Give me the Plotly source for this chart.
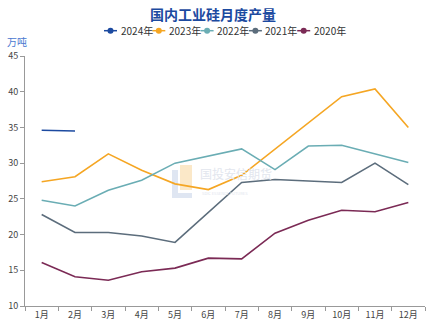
import plotly.graph_objects as go

months = ["1月", "2月", "3月", "4月", "5月", "6月", "7月", "8月", "9月", "10月", "11月", "12月"]
y2024 = [34.6, 34.5]
y2023 = [27.4, 28.1, 31.3, 29.0, 27.1, 26.3, 28.3, 32.0, 35.7, 39.3, 40.4, 35.0]
y2022 = [24.8, 24.0, 26.2, 27.6, 30.0, 31.0, 32.0, 29.1, 32.4, 32.5, 31.3, 30.1]
y2021 = [22.8, 20.3, 20.3, 19.8, 18.9, 23.1, 27.3, 27.7, 27.5, 27.3, 30.0, 27.0]
y2020 = [16.1, 14.1, 13.6, 14.8, 15.3, 16.7, 16.6, 20.2, 22.0, 23.4, 23.2, 24.5]

series = [
    ("2024年", y2024, "#1c4aa0"),
    ("2023年", y2023, "#f5a623"),
    ("2022年", y2022, "#6aadb4"),
    ("2021年", y2021, "#5c6d7c"),
    ("2020年", y2020, "#7b2a55"),
]

W, H = 426, 324
ML, MR, MT, MB = 25, 1, 56, 18
PW, PH = W - ML - MR, H - MT - MB


def px(x):
    return (x - ML) / PW


def py(y):
    return (H - MB - y) / PH


fig = go.Figure()
for name, vals, color in series:
    fig.add_trace(go.Scatter(x=months[:len(vals)], y=vals, mode="lines", name=name,
                             line=dict(color=color, width=1.6), showlegend=False))

shapes = []
annotations = []
# custom compact legend
leg_y = 30.7
for i, (name, vals, color) in enumerate(series):
    x0 = 104 + i * 48.3
    shapes.append(dict(type="line", xref="paper", yref="paper", x0=px(x0), x1=px(x0 + 13),
                       y0=py(leg_y), y1=py(leg_y), line=dict(color=color, width=1.5)))
    shapes.append(dict(type="circle", xref="paper", yref="paper", x0=px(x0 + 3.5), x1=px(x0 + 9.5),
                       y0=py(leg_y + 3), y1=py(leg_y - 3), fillcolor=color, line=dict(width=0)))
    annotations.append(dict(text=name, xref="paper", yref="paper", x=px(x0 + 14.5), y=py(leg_y),
                            xanchor="left", yanchor="middle", showarrow=False,
                            font=dict(size=10, color="#333")))

annotations += [
    dict(text="万吨", xref="paper", yref="paper", x=px(5), y=py(42), xanchor="left", yanchor="middle",
         showarrow=False, font=dict(size=10, color="#4a78d0")),
    dict(text="国投安信期货", xref="paper", yref="paper", x=px(198), y=py(173), xanchor="left", yanchor="middle",
         showarrow=False, font=dict(size=12, color="#e2e6ee")),
    dict(text="SDIC ESSENCE FUTURES", xref="paper", yref="paper", x=px(200), y=py(193), xanchor="left",
         yanchor="middle", showarrow=False, font=dict(size=4, color="#e2e6ee")),
]
shapes += [
    dict(type="rect", xref="paper", yref="paper", x0=px(172), x1=px(178), y0=py(198), y1=py(170),
         fillcolor="#dfe6f2", line=dict(width=0), layer="below"),
    dict(type="rect", xref="paper", yref="paper", x0=px(172), x1=px(192), y0=py(198), y1=py(193),
         fillcolor="#dfe6f2", line=dict(width=0), layer="below"),
    dict(type="rect", xref="paper", yref="paper", x0=px(180), x1=px(192), y0=py(190), y1=py(165),
         fillcolor="#fbe8c8", line=dict(width=0), layer="below"),
]

fig.update_layout(
    width=W, height=H,
    margin=dict(l=ML, r=MR, t=MT, b=MB),
    paper_bgcolor="white", plot_bgcolor="white",
    font=dict(family="Noto Sans CJK SC", size=9, color="#444"),
    title=dict(text="<b>国内工业硅月度产量</b>", x=0.5, xanchor="center", y=(H - 15) / H, yanchor="middle",
               font=dict(size=14, color="#1c4aa0", family="Noto Sans CJK SC")),
    showlegend=False,
    xaxis=dict(type="category", categoryorder="array", categoryarray=months,
               range=[-0.5, 11.5], showline=True, linecolor="#999", linewidth=1,
               ticks="outside", ticklen=4, tickcolor="#999", tickson="boundaries",
               showgrid=False, tickfont=dict(size=9, color="#444"), fixedrange=True),
    yaxis=dict(range=[10, 45], dtick=5, showline=True, linecolor="#999", linewidth=1,
               ticks="outside", ticklen=4, tickcolor="#999", showgrid=False, zeroline=False,
               tickfont=dict(size=9, color="#444")),
    annotations=annotations,
    shapes=shapes,
)

fig.write_html("out.html")
